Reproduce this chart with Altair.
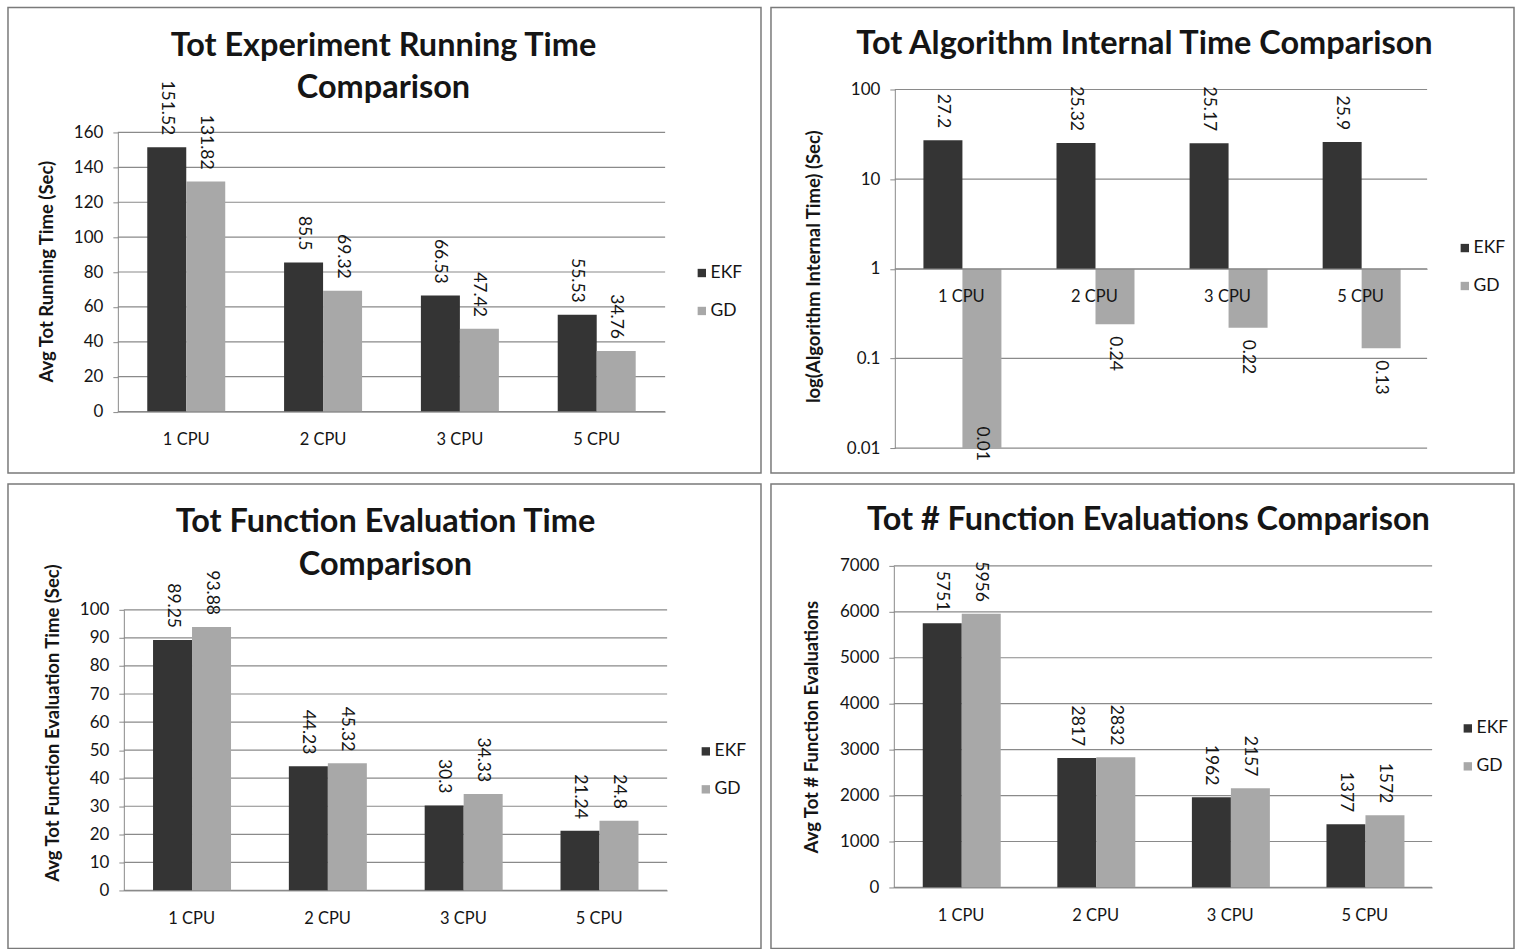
import altair as alt
import pandas as pd

# ---------------- data ----------------
cpus = ["1 CPU", "2 CPU", "3 CPU", "5 CPU"]
series = ["EKF", "GD"]

run_ekf = [151.52, 85.5, 66.53, 55.53]
run_gd = [131.82, 69.32, 47.42, 34.76]

internal_ekf = [27.2, 25.32, 25.17, 25.9]
internal_gd = [0.01, 0.24, 0.22, 0.13]

feval_time_ekf = [89.25, 44.23, 30.3, 21.24]
feval_time_gd = [93.88, 45.32, 34.33, 24.8]

nfeval_ekf = [5751, 2817, 1962, 1377]
nfeval_gd = [5956, 2832, 2157, 1572]

ticks_run = [0, 20, 40, 60, 80, 100, 120, 140, 160]
ticks_internal = [0.01, 0.1, 1, 10, 100]
ticks_feval_time = [0, 10, 20, 30, 40, 50, 60, 70, 80, 90, 100]
ticks_nfeval = [0, 1000, 2000, 3000, 4000, 5000, 6000, 7000]

# ---------------- style ----------------
FONT = "Lato"
INK = "#151515"
GRID = "#8a8a8a"
colors = ["#343434", "#a8a8a8"]


def long_df(ekf, gd):
    rows = []
    for c, a, b in zip(cpus, ekf, gd):
        rows.append({"cpu": c, "series": "EKF", "value": a, "label": str(a)})
        rows.append({"cpu": c, "series": "GD", "value": b, "label": str(b)})
    return pd.DataFrame(rows)


def text_line(txt, x, y, size):
    return alt.Chart(pd.DataFrame({"t": [txt]})).mark_text(
        text=txt, font=FONT, fontSize=size, fontWeight="bold",
        align="center", baseline="middle", color=INK
    ).encode(x=alt.value(x), y=alt.value(y))


def panel(df, ticks, W, H, L, R, yb, yt, titles, tx, ty0, ytitle, ytx, yty,
          lx, ly, log=False, xaxis_y=None, fmt="d"):
    if xaxis_y is None:
        xaxis_y = yb
    yscale = alt.Scale(type="log" if log else "linear",
                       domain=[ticks[0], ticks[-1]], range=[yb, yt],
                       nice=False, zero=False)
    xscale = alt.Scale(domain=cpus, range=[L, R],
                       paddingInner=0.43, paddingOuter=0.215)
    oscale = alt.Scale(domain=series, paddingInner=0, paddingOuter=0)

    yaxis = alt.Axis(values=ticks, format=fmt, grid=False, offset=-L,
                     title=ytitle, titleX=ytx - L, titleY=yty, titleAngle=270,
                     titleAlign="center", titleBaseline="middle",
                     titleFont=FONT, titleFontSize=18.5, titleFontWeight="bold",
                     titleColor=INK, labelFont=FONT, labelFontSize=17,
                     labelColor=INK, labelPadding=10, tickSize=5,
                     tickColor=GRID, domainColor=GRID)
    xaxis = alt.Axis(offset=xaxis_y - H, title=None, ticks=False,
                     labelPadding=20, labelFont=FONT, labelFontSize=16.5,
                     labelColor=INK, labelAngle=0, grid=False,
                     domainColor=GRID, zindex=1)

    X = alt.X("cpu:N", scale=xscale, axis=xaxis, sort=cpus)
    XO = alt.XOffset("series:N", scale=oscale, sort=series)
    Y = alt.Y("value:Q", scale=yscale, axis=yaxis)

    grid = alt.Chart(pd.DataFrame({"value": ticks})).mark_rule(
        color=GRID, strokeWidth=1.2
    ).encode(y=Y, x=alt.value(L), x2=alt.value(R))

    enc = dict(
        x=X, xOffset=XO, y=Y,
        color=alt.Color("series:N",
                        scale=alt.Scale(domain=series, range=colors),
                        legend=alt.Legend(orient="none", legendX=lx,
                                          legendY=ly, title=None,
                                          direction="vertical",
                                          symbolType="square",
                                          symbolSize=70,
                                          symbolStrokeWidth=0,
                                          labelFont=FONT, labelFontSize=17.5,
                                          labelColor=INK, labelOffset=0,
                                          rowPadding=19, padding=0)),
    )
    if log:
        enc["y2"] = alt.datum(1)
    bars = alt.Chart(df).mark_bar().encode(**enc)

    tkw = dict(angle=90, baseline="middle", fontSize=17.5, font=FONT, color=INK)
    tenc = dict(x=X, xOffset=XO, y=Y, text=alt.Text("label:N"))
    if log:
        up = alt.Chart(df).transform_filter("datum.value >= 1").mark_text(
            align="right", dx=-12, **tkw).encode(**tenc)
        down = alt.Chart(df).transform_filter(
            "datum.value < 1 && datum.value >= 0.05").mark_text(
            align="left", dx=12, **tkw).encode(**tenc)
        floor = alt.Chart(df).transform_filter("datum.value < 0.05").mark_text(
            align="right", dx=13, **tkw).encode(**tenc)
        labels = [up, down, floor]
    else:
        labels = [alt.Chart(df).mark_text(align="right", dx=-12, **tkw)
                  .encode(**tenc)]

    tlayers = [text_line(t, tx, ty0 + 43 * i, 32.5) for i, t in enumerate(titles)]

    return alt.layer(grid, bars, *labels, *tlayers).properties(width=W, height=H)


tl = panel(long_df(run_ekf, run_gd), ticks_run, 754, 466,
           110, 658, 404.5, 125,
           ["Tot Experiment Running Time", "Comparison"], 376, 38,
           "Avg Tot Running Time (Sec)", 39, 264, 686, 257)

tr = panel(long_df(internal_ekf, internal_gd), ticks_internal, 744, 466,
           124, 657, 441, 82,
           ["Tot Algorithm Internal Time Comparison"], 374, 36,
           "log(Algorithm Internal Time) (Sec)", 43, 259, 686, 232,
           log=True, xaxis_y=261.5, fmt="~g")

bl = panel(long_df(feval_time_ekf, feval_time_gd), ticks_feval_time, 754, 465,
           116, 660, 407, 126,
           ["Tot Function Evaluation Time", "Comparison"], 378, 38,
           "Avg Tot Function Evaluation Time (Sec)", 45, 239, 690, 259)

br = panel(long_df(nfeval_ekf, nfeval_gd), ticks_nfeval, 744, 465,
           123, 662, 404, 82,
           ["Tot # Function Evaluations Comparison"], 378, 36,
           "Avg Tot # Function Evaluations", 41, 243, 689, 236)

top = alt.hconcat(tl, tr, spacing=8).resolve_scale(color="independent")
bottom = alt.hconcat(bl, br, spacing=8).resolve_scale(color="independent")

chart = alt.vconcat(top, bottom, spacing=9).resolve_scale(
    color="independent"
).properties(
    padding={"left": 7, "top": 6, "right": 0, "bottom": 0},
    background="white",
).configure_view(
    stroke="#7a7a7a", strokeWidth=1.5
)

chart.save("out.html", embed_options={"renderer": "svg", "actions": False})
